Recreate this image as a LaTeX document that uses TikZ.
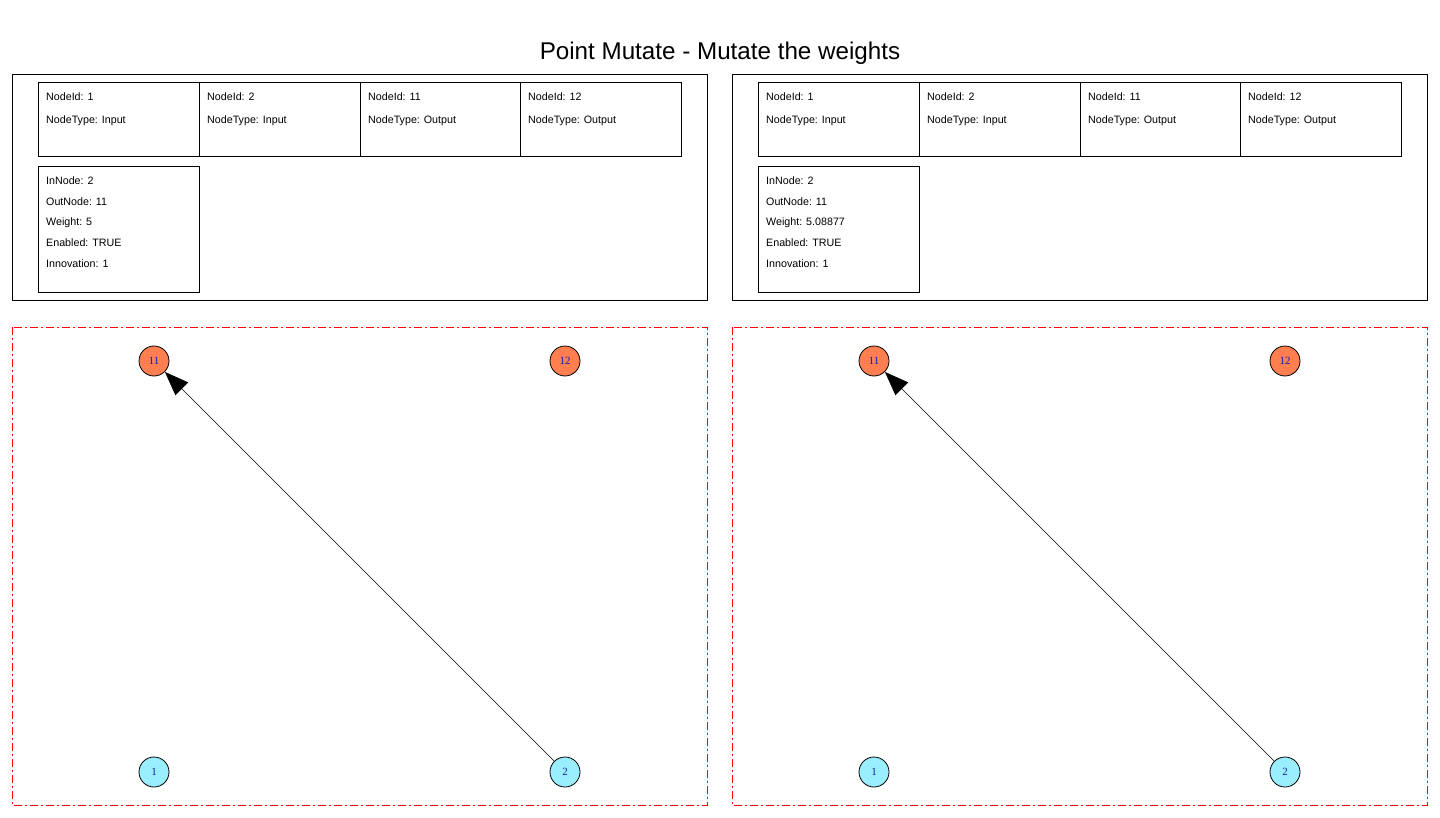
\documentclass[tikz,border=0pt]{standalone}
\usepackage{fontspec}
\setmainfont{Liberation Sans}
\newfontfamily\nodefont{Liberation Serif}
\usetikzlibrary{arrows.meta}
\definecolor{outcol}{RGB}{255,127,80}
\definecolor{incol}{RGB}{153,238,255}
\definecolor{lbl}{RGB}{30,30,150}
\tikzset{
  panel/.style={draw=black,line width=1pt},
  cell/.style={draw=black,line width=1pt},
  info/.style={anchor=west,inner sep=0pt,font=\fontsize{10.7}{12}\selectfont},
  graphbox/.style={draw=red,line width=1pt,dash pattern=on 8pt off 3pt on 2pt off 3pt},
  outnode/.style={circle,draw=black,line width=0.8pt,fill=outcol,minimum size=30pt,inner sep=0pt,font=\nodefont\fontsize{11}{12}\selectfont,text=lbl},
  innode/.style={circle,draw=black,line width=0.8pt,fill=incol,minimum size=30pt,inner sep=0pt,font=\nodefont\fontsize{11}{12}\selectfont,text=lbl},
  conn/.style={draw=black,line width=0.6pt,-{Triangle[length=24pt,width=18pt]}}
}
\begin{document}
\begin{tikzpicture}[x=1pt,y=-1pt]
\useasboundingbox (0,0) rectangle (1440,818);
\node[font=\fontsize{24.2}{28}\selectfont] (title) at (720,53) {Point Mutate - Mutate the weights};
\foreach \dx/\w/\nm in {0/5/L,720/5.08877/R}{
  \begin{scope}[xshift=\dx pt]
  \draw[panel] (12,75) rectangle (707,301);
  \draw[cell] (38,83) rectangle (199,157);
  \draw[cell] (199,83) rectangle (360,157);
  \draw[cell] (360,83) rectangle (520,157);
  \draw[cell] (520,83) rectangle (681,157);
  \node[info] (\nm n1a) at (46,97) {NodeId: 1};
  \node[info] (\nm n1b) at (46,121) {NodeType: Input};
  \node[info] (\nm n2a) at (207,97) {NodeId: 2};
  \node[info] (\nm n2b) at (207,121) {NodeType: Input};
  \node[info] (\nm n3a) at (368,97) {NodeId: 11};
  \node[info] (\nm n3b) at (368,121) {NodeType: Output};
  \node[info] (\nm n4a) at (528,97) {NodeId: 12};
  \node[info] (\nm n4b) at (528,121) {NodeType: Output};
  \draw[cell] (38,167) rectangle (199,293);
  \node[info] (\nm c1) at (46,181) {InNode: 2};
  \node[info] (\nm c2) at (46,202) {OutNode: 11};
  \node[info] (\nm c3) at (46,223) {Weight: \w};
  \node[info] (\nm c4) at (46,243) {Enabled: TRUE};
  \node[info] (\nm c5) at (46,264) {Innovation: 1};
  \draw[graphbox] (12,327) rectangle (707,805);
  \node[outnode] (\nm g11) at (154,361) {11};
  \node[outnode] (\nm g12) at (565,361) {12};
  \node[innode] (\nm g1) at (154,772) {1};
  \node[innode] (\nm g2) at (565,772) {2};
  \draw[conn] (\nm g2) -- (\nm g11);
  \end{scope}
}
\end{tikzpicture}
\end{document}
